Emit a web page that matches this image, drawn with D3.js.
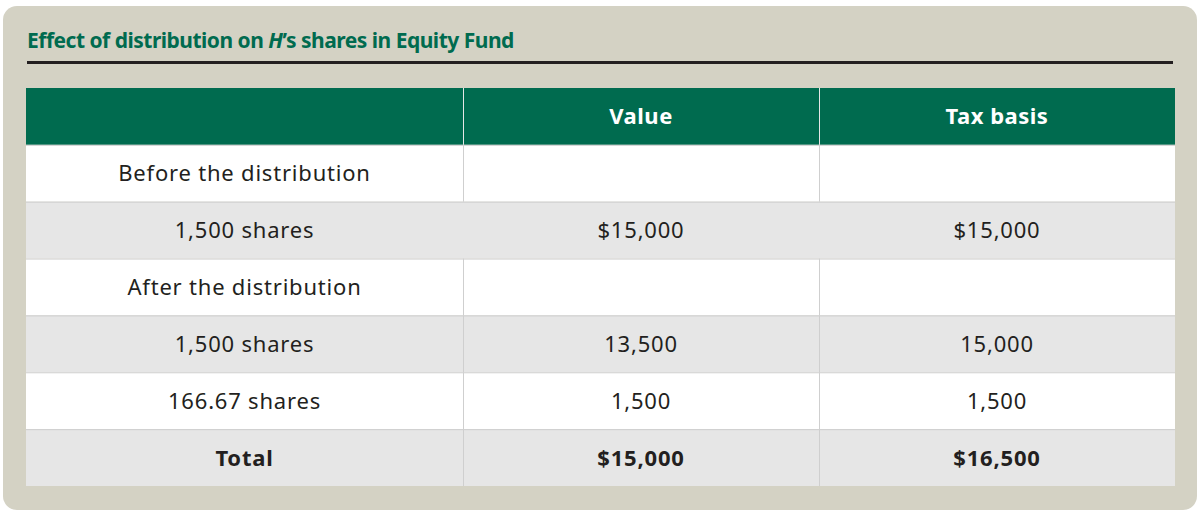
<!DOCTYPE html><html><head><meta charset="utf-8"><script src="https://cdn.jsdelivr.net/npm/d3@7"></script>
<style>body{margin:0;background:#fff}</style></head><body><svg id="c" width="1200" height="532"></svg>
<script>
const columns = ["", "Value", "Tax basis"];
const rowLabels = ["Before the distribution", "1,500 shares", "After the distribution", "1,500 shares", "166.67 shares", "Total"];
const valueCol = ["", "$15,000", "", "13,500", "1,500", "$15,000"];
const taxCol = ["", "$15,000", "", "15,000", "1,500", "$16,500"];
const rowFill = ["#fff", "#e6e6e6", "#fff", "#e6e6e6", "#fff", "#e6e6e6"];
const boldRow = [false, false, false, false, false, true];

const svg = d3.select("#c");
svg.append("rect").attr("x",3).attr("y",6).attr("width",1194).attr("height",504).attr("rx",14).attr("fill","#d4d2c4");
svg.append("text").attr("x",27).attr("y",48).attr("fill","#006b4f").attr("font-family","Noto Sans").attr("font-weight","bold").attr("font-size",21).attr("letter-spacing",-0.5)
  .html('Effect of distribution on <tspan font-style="italic">H</tspan>’s shares in Equity Fund');
svg.append("rect").attr("x",27).attr("y",61).attr("width",1146).attr("height",3).attr("fill","#231f20");

const x = d3.scaleOrdinal().domain([0,1,2]).range([26,463,819]);
const xEnd = 1175;
const widths = [437,356,356];
const y = d3.scaleBand().domain(d3.range(7)).range([88,486]);
const g = svg.append("g");
// header
g.append("rect").attr("x",26).attr("y",y(0)).attr("width",xEnd-26).attr("height",y.bandwidth()).attr("fill","#006b4f");
columns.forEach((c,i)=>{
  g.append("text").attr("x",x(i)+widths[i]/2).attr("y",y(0)+y.bandwidth()/2+8).attr("text-anchor","middle")
   .attr("fill","#fff").attr("font-family","Noto Sans").attr("font-weight","bold").attr("font-size",22).attr("letter-spacing",0.5).text(c);
});
rowLabels.forEach((lab,r)=>{
  const yy=y(r+1);
  g.append("rect").attr("x",26).attr("y",yy).attr("width",xEnd-26).attr("height",y.bandwidth()).attr("fill",rowFill[r]);
  g.append("line").attr("x1",26).attr("x2",xEnd).attr("y1",yy+0.5).attr("y2",yy+0.5).attr("stroke","#cfcfcf");
  [lab,valueCol[r],taxCol[r]].forEach((t,i)=>{
    g.append("text").attr("x",x(i)+widths[i]/2).attr("y",yy+y.bandwidth()/2+8).attr("text-anchor","middle")
     .attr("fill","#231f20").attr("font-family","Noto Sans").attr("font-size",22).attr("letter-spacing",0.8)
     .attr("font-weight",boldRow[r]?"bold":"normal").text(t);
  });
});
[1,2].forEach(i=>{
  g.append("line").attr("x1",x(i)+0.5).attr("x2",x(i)+0.5).attr("y1",y(0)).attr("y2",y(0)+y.bandwidth()).attr("stroke","#e6e6e6").attr("stroke-width",1);
  [1,3,4,5,6].forEach(r=>g.append("line").attr("x1",x(i)+0.5).attr("x2",x(i)+0.5).attr("y1",y(r)).attr("y2",y(r)+y.bandwidth()).attr("stroke","#cfcfcf"));
});
</script></body></html>
